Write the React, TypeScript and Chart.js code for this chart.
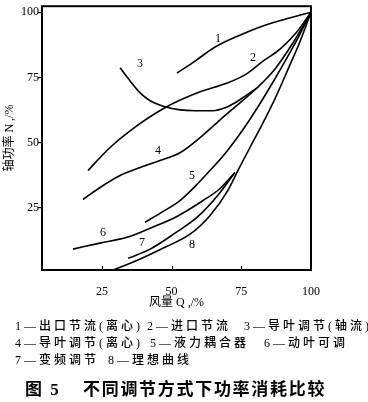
import React, { useEffect, useRef } from 'react';
import { Chart, registerables } from 'chart.js';

Chart.register(...registerables);

// Tick labels
const xTicks = [25, 50, 75, 100];
const yTicks = [25, 50, 75, 100];

// Curve numbers and names (legend)
const curveNumbers = ['1', '2', '3', '4', '5', '6', '7', '8'];
const curveNames = [
  '出口节流(离心)',
  '进口节流',
  '导叶调节(轴流)',
  '导叶调节(离心)',
  '液力耦合器',
  '动叶可调',
  '变频调节',
  '理想曲线',
];

// Series: Q = air flow (%), N = shaft power (%)
const q1 = [51.9, 58.4, 65.6, 75.3, 83.5, 90.7, 100];
const n1 = [76.7, 81.3, 86.7, 91.6, 95.0, 97.3, 100];
const q2 = [20.0, 27.9, 35.1, 47.6, 60.2, 69.2, 76.3, 82.8, 88.9, 94.6, 100];
const n2 = [39.4, 48.2, 54.6, 63.4, 69.5, 72.6, 76.0, 81.3, 85.9, 92.0, 100];
const q3 = [31.5, 35.1, 38.7, 42.3, 47.6, 53.0, 58.4, 64.8, 69.2, 74.5, 80.6];
const n3 = [78.7, 73.7, 69.1, 66.1, 63.8, 62.6, 62.3, 62.3, 63.4, 66.5, 71.0];
const q4 = [18.2, 24.3, 31.5, 38.7, 45.8, 53.0, 60.2, 67.4, 74.5, 80.6, 87.1, 93.5, 100];
const n4 = [28.3, 32.9, 37.5, 40.5, 43.2, 46.2, 52.0, 58.8, 65.3, 71.0, 78.3, 88.2, 100];
const q5 = [40.5, 45.8, 53.0, 58.4, 63.1, 69.2, 75.3, 81.0, 86.0, 90.7, 95.3, 100];
const n5 = [19.6, 23.0, 27.9, 33.3, 38.6, 45.9, 54.6, 63.8, 72.6, 81.3, 90.1, 100];
const q6 = [14.6, 24.3, 34.0, 42.3, 51.9, 61.3, 67.4, 72.7];
const n6 = [9.3, 11.6, 13.8, 17.3, 21.8, 27.9, 32.5, 38.6];
const q7 = [34.4, 42.3, 51.2, 59.5, 66.6, 72.7];
const n7 = [5.8, 9.3, 15.4, 21.8, 29.9, 38.6];
const q8 = [29.0, 38.7, 47.6, 56.6, 63.8, 70.2, 73.8, 78.1, 81.7, 87.4, 92.1, 96.1, 100];
const n8 = [1.3, 5.5, 10.0, 15.0, 22.2, 31.8, 39.4, 48.2, 55.4, 67.6, 79.0, 88.9, 100];

// Where each curve number is written (data units)
const labelQ = [66.6, 79.2, 38.7, 45.1, 57.3, 25.4, 39.4, 57.3];
const labelN = [89.7, 82.5, 80.2, 47.0, 37.5, 15.4, 11.6, 10.8];

const seriesQ = [q1, q2, q3, q4, q5, q6, q7, q8];
const seriesN = [n1, n2, n3, n4, n5, n6, n7, n8];

const SERIF = '"Liberation Serif", "Times New Roman", "Noto Sans CJK SC", serif';

const framePlugin = {
  id: 'frame',
  afterDatasetsDraw(chart: any) {
    const { ctx, chartArea, scales } = chart;
    const { left, top, right, bottom } = chartArea;
    const xs = scales.x;
    const ys = scales.y;
    ctx.save();
    ctx.strokeStyle = '#000';
    ctx.lineWidth = 2;
    ctx.strokeRect(left, top, right - left, bottom - top);
    ctx.lineWidth = 1.2;
    xTicks.slice(0, 3).forEach((v) => {
      const px = Math.round(xs.getPixelForValue(v)) + 0.5;
      ctx.beginPath();
      ctx.moveTo(px, bottom);
      ctx.lineTo(px, bottom - 4);
      ctx.stroke();
    });
    ctx.fillStyle = '#000';
    ctx.font = '12px ' + SERIF;
    ctx.textAlign = 'center';
    ctx.textBaseline = 'middle';
    curveNumbers.forEach((num, i) => {
      ctx.fillText(num, xs.getPixelForValue(labelQ[i]), ys.getPixelForValue(labelN[i]));
    });
    ctx.restore();
  },
};

export default function App() {
  const canvasRef = useRef<HTMLCanvasElement | null>(null);

  useEffect(() => {
    if (!canvasRef.current) return;
    const datasets = seriesQ.map((qs, i) => ({
      label: curveNumbers[i] + '—' + curveNames[i],
      data: qs.map((q, j) => ({ x: q, y: seriesN[i][j] })),
      borderColor: '#000',
      borderWidth: 1.6,
      pointRadius: 0,
      fill: false,
      cubicInterpolationMode: 'monotone' as const,
    }));
    const chart = new Chart(canvasRef.current, {
      type: 'line',
      data: { datasets },
      options: {
        animation: false,
        responsive: false,
        maintainAspectRatio: false,
        devicePixelRatio: 1,
        layout: { padding: { left: 0, top: 5, right: 57, bottom: 92 } },
        plugins: { legend: { display: false }, tooltip: { enabled: false } },
        scales: {
          x: {
            type: 'linear',
            min: 3.5,
            max: 100,
            afterBuildTicks: (scale: any) => {
              scale.ticks = xTicks.map((v) => ({ value: v }));
            },
            afterFit: (scale: any) => {
              scale.height = 40;
            },
            grid: { display: false },
            border: { display: false },
            ticks: {
              color: '#000',
              padding: 7,
              maxRotation: 0,
              font: { family: SERIF, size: 12 },
            },
            title: {
              display: true,
              text: '风量 Q ,/%',
              color: '#000',
              padding: { top: 0, bottom: 0 },
              font: { family: SERIF, size: 12 },
            },
          },
          y: {
            type: 'linear',
            min: 1.3,
            max: 102.3,
            afterBuildTicks: (scale: any) => {
              scale.ticks = yTicks.map((v) => ({ value: v }));
            },
            afterFit: (scale: any) => {
              scale.width = 42;
            },
            grid: {
              display: true,
              drawOnChartArea: false,
              drawTicks: true,
              tickLength: 4,
              color: '#000',
              lineWidth: 1.2,
            },
            border: { display: false },
            ticks: {
              color: '#000',
              padding: -1,
              font: { family: SERIF, size: 12 },
            },
            title: {
              display: true,
              text: '轴功率 N ,/%',
              color: '#000',
              padding: { top: 3, bottom: 0 },
              font: { family: SERIF, size: 12 },
            },
          },
        },
      },
      plugins: [framePlugin],
    });
    return () => chart.destroy();
  }, []);

  const legendStyle: React.CSSProperties = {
    position: 'absolute',
    fontFamily: SERIF,
    fontSize: 12,
    fontWeight: 500,
    letterSpacing: 3,
    lineHeight: '14px',
    whiteSpace: 'nowrap',
    color: '#000',
  };
  const legendPos = [
    [15, 319],
    [147, 319],
    [244, 319],
    [15, 336],
    [150, 336],
    [264, 336],
    [15, 353],
    [108, 353],
  ];
  const captionStyle: React.CSSProperties = {
    position: 'absolute',
    top: 380,
    fontFamily: SERIF,
    fontSize: 17,
    fontWeight: 700,
    lineHeight: '20px',
    whiteSpace: 'nowrap',
    color: '#000',
  };

  return (
    <div style={{ position: 'absolute', left: 0, top: 0, width: 368, height: 402, background: '#fff' }}>
      <canvas ref={canvasRef} width={368} height={402} style={{ display: 'block' }} />
      {curveNames.map((name, i) => (
        <span key={i} style={{ ...legendStyle, left: legendPos[i][0], top: legendPos[i][1] }}>
          {curveNumbers[i] + '—' + name}
        </span>
      ))}
      <span style={{ ...captionStyle, left: 25, letterSpacing: 2 }}>{'图\u00a05'}</span>
      <span style={{ ...captionStyle, left: 83, letterSpacing: 1.7 }}>不同调节方式下功率消耗比较</span>
    </div>
  );
}
